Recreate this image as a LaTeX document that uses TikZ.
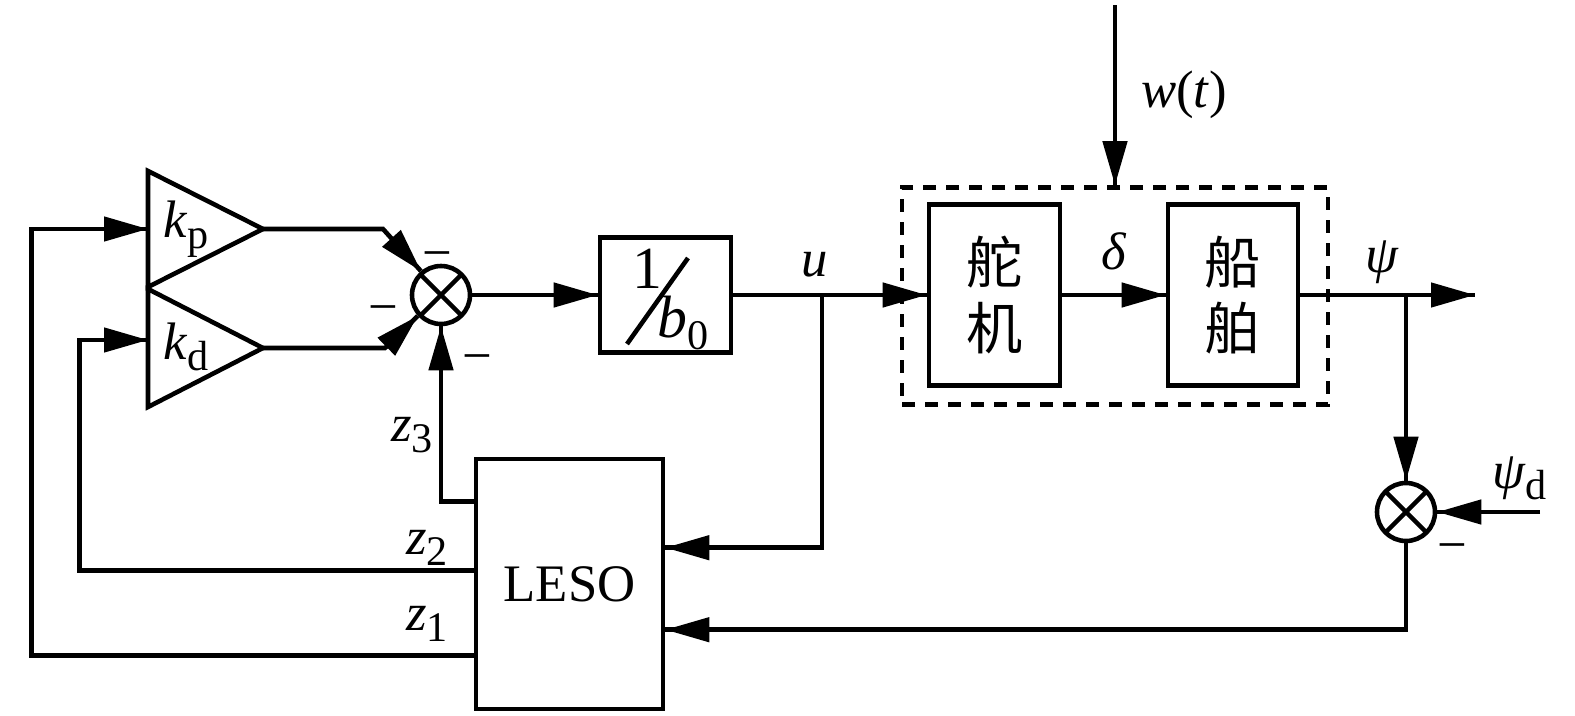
\documentclass[tikz,border=0pt]{standalone}
\usepackage{fontspec}
\setmainfont{Liberation Serif}
\newfontfamily\cjk{Noto Sans CJK SC}
\newcommand{\lowsub}[1]{\raisebox{-0.45ex}{\fontsize{12}{14}\selectfont #1}}
\tikzset{->/.style = {decoration={markings, mark=at position 1 with {\arrow{Triangle[length=4.4mm,width=2.4mm]}}}, postaction={decorate}}}
\tikzset{summer/.style = {draw, circle, minimum size=5.8mm, inner sep=0pt,
    path picture={\draw (path picture bounding box.north west) -- (path picture bounding box.south east)
                        (path picture bounding box.north east) -- (path picture bounding box.south west);}},
         blk/.style = {draw, inner sep=0pt, align=center}}
\usetikzlibrary{arrows.meta,
                 decorations.markings}
\begin{document}
\begin{tikzpicture}[line width=1.3pt, font=\fontsize{15}{18}\selectfont]
\useasboundingbox (0,0) rectangle (15.75,7.15);
	\draw (1.48,5.44) -- (2.63,4.86) -- (1.48,4.28) -- cycle;
	\draw (1.48,4.26) -- (2.63,3.67) -- (1.48,3.08) -- cycle;
\coordinate (kpin) at (1.48,4.86);
\coordinate (kpout) at (2.63,4.86);
\coordinate (kdin) at (1.48,3.75);
\coordinate (kdout) at (2.63,3.67);
\node (kp) at (1.86,4.86) {\textit{k}\lowsub{p}};
\node (kd) at (1.86,3.68) {\textit{k}\lowsub{d}};
\node [summer] (sumA) at (4.41,4.20) {};
\node (mA) at (4.37,4.54) {−};
\node (mB) at (3.83,4.00) {−};
\node (mC) at (4.77,3.51) {−};
\node [blk, minimum width=1.31cm, minimum height=1.15cm] (bzero) at (6.655,4.20) {};
\node (one) at (6.47,4.46) {\fontsize{17}{20}\selectfont 1};
\draw (6.27,3.71) -- (6.88,4.57);
\node (bsub) at (6.83,3.92) {\fontsize{17}{20}\selectfont\textit{b}\lowsub{0}};
\node [draw, dash pattern=on 1.3mm off 1mm, minimum width=4.26cm, minimum height=2.17cm] (plant) at (11.15,4.19) {};
\node [blk, minimum width=1.31cm, minimum height=1.81cm, font=\cjk\fontsize{16}{18.8}\selectfont] (duoji) at (9.945,4.20) {舵\\机};
\node [blk, minimum width=1.30cm, minimum height=1.81cm, font=\cjk\fontsize{16}{18.8}\selectfont] (chuanbo) at (12.33,4.20) {船\\舶};
\node [blk, minimum width=1.87cm, minimum height=2.50cm] (leso) at (5.695,1.31) {LESO};
\node [summer] (sumB) at (14.06,2.03) {};
\node (mD) at (14.52,1.62) {−};
% signals
\coordinate (ubr) at (8.22,4.20);
\coordinate (psibr) at (14.06,4.20);
\coordinate (psiend) at (14.75,4.20);
\coordinate (psidin) at (15.40,2.03);
\coordinate (win) at (11.15,7.10);
\draw [->] (kpout) -- (3.83,4.86) -- (sumA.130);
\draw [->] (kdout) -- (3.85,3.67) -- (sumA.222);
\draw [->] (sumA.east) -- (bzero.west);
\draw [->] (bzero.east) -- (duoji.west) node [pos = 0.42, above=1pt] {\textit{u}};
\draw [->] (duoji.east) -- (chuanbo.west) node [midway, above=3pt] {\textit{δ}};
\draw [->] (chuanbo.east) -- (psiend) node [pos = 0.47, above=-0.7pt] {\textit{ψ}};
\draw [->] (win) -- (win |- plant.north) node [pos = 0.5, right=0.12cm] {\textit{w}(\textit{t})};
\draw [->] (psibr) -- (sumB.north);
\draw [->] (psidin) -- (sumB.east) node [pos = 0.2, above=-0.5pt] {\textit{ψ}\lowsub{d}};
\draw [->] (ubr) |- ([yshift=-9.1mm]leso.north east);
\draw [->] (sumB.south) |- ([yshift=-17.3mm]leso.north east);
\draw [->] ([yshift=-4.5mm]leso.north west) -| (sumA.south);
\draw [->] ([yshift=-11.4mm]leso.north west) -- ++(-3.94,0) |- (kdin);
\draw [->] ([yshift=-19.9mm]leso.north west) -- ++(-4.42,0) |- (kpin);
\node (zthree) at (4.12,2.80) {\textit{z}\lowsub{3}};
\node (ztwo) at (4.27,1.67) {\textit{z}\lowsub{2}};
\node (zone) at (4.27,0.91) {\textit{z}\lowsub{1}};
\end{tikzpicture}
\end{document}
